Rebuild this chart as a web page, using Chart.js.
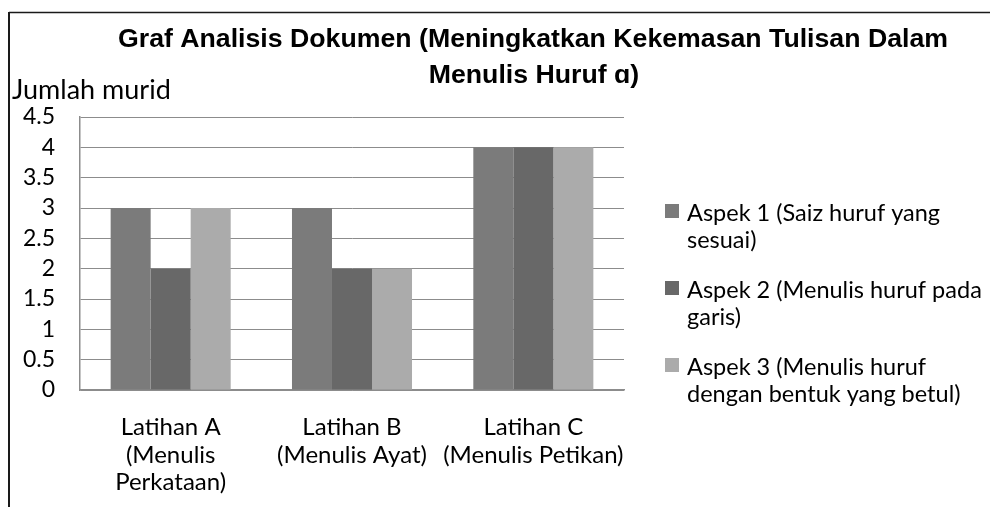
<!DOCTYPE html>
<html>
<head>
<meta charset="utf-8">
<script src="https://cdn.jsdelivr.net/npm/chart.js@4.4.1/dist/chart.umd.min.js"></script>
<style>
  html, body { margin: 0; padding: 0; background: #fff; }
  #wrap { width: 992px; height: 507px; }
</style>
</head>
<body>
<div id="wrap"><canvas id="analisisChart"></canvas></div>
<script>
// data
var latihanLabels = [
    ['Latihan A', '(Menulis', 'Perkataan)'],
    ['Latihan B', '(Menulis Ayat)'],
    ['Latihan C', '(Menulis Petikan)']
]
var aspek1 = [3, 3, 4]
var aspek2 = [2, 2, 4]
var aspek3 = [3, 2, 4]
var aspekNames = [
    ['Aspek 1 (Saiz huruf yang', 'sesuai)'],
    ['Aspek 2 (Menulis huruf pada', 'garis)'],
    ['Aspek 3 (Menulis huruf', 'dengan bentuk yang betul)']
]
var titleLines = ['Graf Analisis Dokumen (Meningkatkan Kekemasan Tulisan Dalam', 'Menulis Huruf \u0251)']
var yTitle = 'Jumlah murid'

var barColors = ['#7b7b7b', '#686868', '#ababab']
var gridColor = '#8c8c8c'
var textFont = 'Lato, "Open Sans", sans-serif'

// frame, title, axis title and the wrapped legend
var decorPlugin = {
    id: 'decor',
    afterDraw: function(chart) {
        var ctx = chart.ctx
        ctx.save()

        ctx.strokeStyle = '#1a1a1a'
        ctx.lineWidth = 1.5
        ctx.beginPath()
        ctx.moveTo(9, 12.5)
        ctx.lineTo(990, 12.5)
        ctx.stroke()
        ctx.lineWidth = 2
        ctx.beginPath()
        ctx.moveTo(9, 12)
        ctx.lineTo(9, 507)
        ctx.stroke()

        ctx.fillStyle = '#000'
        ctx.textAlign = 'center'
        ctx.textBaseline = 'alphabetic'
        ctx.font = 'bold 26.7px Liberation Sans, Arial, Helvetica, sans-serif'
        ctx.fillText(titleLines[0], 533, 47)
        ctx.fillText(titleLines[1], 534, 83)

        ctx.textAlign = 'left'
        ctx.font = '27px ' + textFont
        ctx.fillText(yTitle, 12, 99)

        ctx.font = '23.5px ' + textFont
        chart.data.datasets.forEach(function(ds, i) {
            var top = 221 + i * 77
            ctx.fillStyle = ds.backgroundColor
            ctx.fillRect(665, top - 17, 14, 14)
            ctx.fillStyle = '#000'
            ds.legendLines.forEach(function(line, j) {
                ctx.fillText(line, 687, top + j * 27)
            })
        })
        ctx.restore()
    }
}

var ctx = document.getElementById('analisisChart').getContext('2d')
var analisisChart = new Chart(ctx, {
    type: 'bar',
    data: {
        labels: latihanLabels,
        datasets: [aspek1, aspek2, aspek3].map(function(vals, i) {
            return {
                label: aspekNames[i].join(' '),
                legendLines: aspekNames[i],
                data: vals,
                backgroundColor: barColors[i],
                borderWidth: 0,
                categoryPercentage: 0.662,
                barPercentage: 1.0
            }
        })
    },
    options: {
        responsive: true,
        maintainAspectRatio: false,
        animation: false,
        layout: {
            padding: { top: 117, right: 368, left: 0, bottom: 0 }
        },
        scales: {
            y: {
                min: 0,
                max: 4.5,
                afterFit: function(scale) { scale.width = 80 },
                ticks: {
                    stepSize: 0.5,
                    autoSkip: false,
                    color: '#000',
                    padding: 25,
                    font: { family: textFont, size: 23 },
                    callback: function(value) { return String(value) }
                },
                grid: { color: gridColor, lineWidth: 1, drawTicks: false },
                border: { color: gridColor, width: 1.5 }
            },
            x: {
                afterFit: function(scale) { scale.height = 117 },
                ticks: {
                    color: '#000',
                    padding: 24,
                    maxRotation: 0,
                    autoSkip: false,
                    font: { family: textFont, size: 24, lineHeight: 1.146 }
                },
                grid: { display: false, drawTicks: false },
                border: { color: gridColor, width: 1.5 }
            }
        },
        plugins: {
            legend: { display: false },
            title: { display: false },
            tooltip: { enabled: false }
        }
    },
    plugins: [decorPlugin]
})
</script>
</body>
</html>
